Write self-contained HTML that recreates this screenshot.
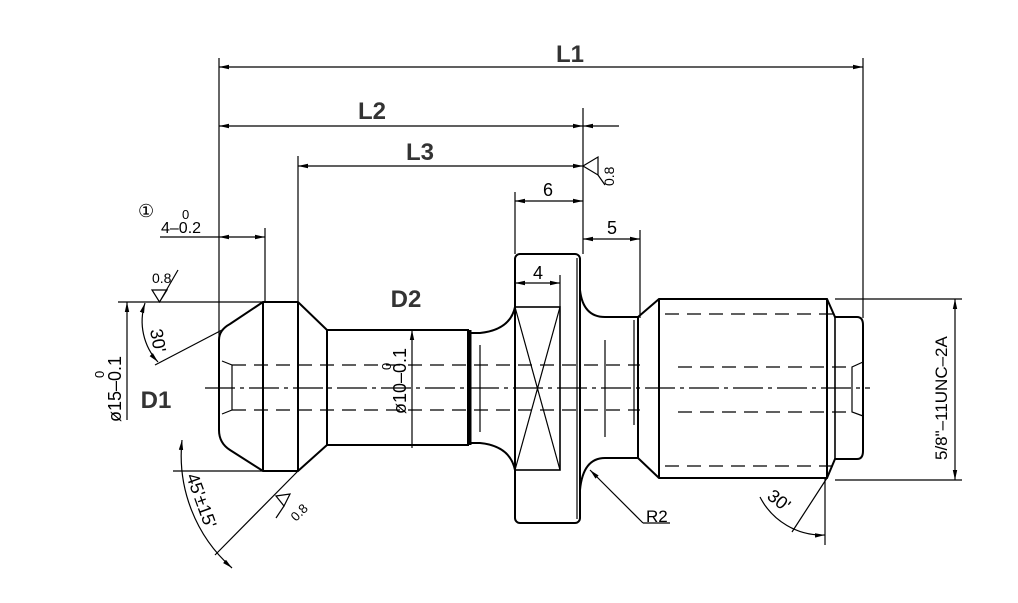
<!DOCTYPE html>
<html><head><meta charset="utf-8"><style>html,body{margin:0;padding:0;background:#fff}svg{display:block}</style></head><body>
<svg width="1018" height="603" viewBox="0 0 1018 603" xmlns="http://www.w3.org/2000/svg" font-family="Liberation Sans, sans-serif">
<defs>
<marker id="a" markerWidth="10" markerHeight="6" refX="10" refY="3" orient="auto-start-reverse" markerUnits="userSpaceOnUse"><path d="M0,0.8 L10,3 L0,5.2z" fill="#000"/></marker>
</defs>
<g stroke="#000" fill="none" stroke-width="1.2">
<line x1="219" y1="58" x2="219" y2="430"/>
<line x1="298" y1="156" x2="298" y2="302"/>
<line x1="583" y1="108" x2="583" y2="254"/>
<line x1="863" y1="58" x2="863" y2="318"/>
<line x1="515" y1="192" x2="515" y2="254"/>
<line x1="640" y1="230" x2="640" y2="318"/>
<line x1="560" y1="275" x2="560" y2="307"/>
<line x1="265" y1="228" x2="265" y2="302"/>
<line x1="219" y1="67" x2="863" y2="67" marker-start="url(#a)" marker-end="url(#a)"/>
<line x1="219" y1="126" x2="583" y2="126" marker-start="url(#a)" marker-end="url(#a)"/>
<line x1="619" y1="126" x2="583" y2="126" marker-end="url(#a)"/>
<line x1="298" y1="166" x2="583" y2="166" marker-start="url(#a)" marker-end="url(#a)"/>
<line x1="515" y1="201" x2="583" y2="201" marker-start="url(#a)" marker-end="url(#a)"/>
<line x1="583" y1="239" x2="640" y2="239" marker-start="url(#a)" marker-end="url(#a)"/>
<line x1="515" y1="283" x2="560" y2="283" marker-start="url(#a)" marker-end="url(#a)"/>
<line x1="160" y1="237" x2="219" y2="237"/>
<line x1="219" y1="237" x2="265" y2="237" marker-start="url(#a)" marker-end="url(#a)"/>
<path d="M583,166 L598,157 L598,175 Z M598,175 L605,185"/>
<path d="M152,290 L167,290 L159.5,302 Z M159.5,302 L178,270"/>
<line x1="118" y1="302" x2="263" y2="302"/>
<line x1="127" y1="420" x2="127" y2="302" marker-end="url(#a)"/>
<line x1="173" y1="471" x2="263" y2="471"/>
<line x1="155" y1="365" x2="222" y2="330"/>
<path d="M145,303 A60,60 0 0 0 158,362" marker-start="url(#a)" marker-end="url(#a)"/>
<line x1="298" y1="471" x2="215" y2="555"/>
<path d="M182,440 A150,150 0 0 0 232,568" marker-start="url(#a)" marker-end="url(#a)"/>
<path d="M276,496 L284,506 L290,494 Z"/>
<line x1="284" y1="506" x2="276" y2="518"/>
<path d="M263,302 L298,302 L327,330 L468,330 L468,445 L327,445 L298,471 L263,471 L230,450 Q219,443 219,430 L219,340 Q219,330 230,324 Z" stroke-width="2"/>
<line x1="263" y1="302" x2="263" y2="471" stroke-width="2"/>
<line x1="298" y1="302" x2="298" y2="471" stroke-width="2"/>
<line x1="327" y1="330" x2="327" y2="445" stroke-width="2"/>
<path d="M222,361 L232,365 L232,410 L222,414"/>
<line x1="412" y1="448" x2="412" y2="330" marker-end="url(#a)"/>
<path d="M468,333 L480,333 Q510,330 515,307 M468,443 L480,443 Q510,446 515,470" stroke-width="2"/>
<line x1="470" y1="330" x2="470" y2="445" stroke-width="3"/>
<line x1="480" y1="345" x2="480" y2="432"/>
<rect x="515" y="254" width="65" height="269" rx="5" stroke-width="2"/>
<line x1="577" y1="258" x2="577" y2="519"/>
<rect x="515" y="307" width="45" height="163" stroke-width="1.6"/>
<path d="M515,307 L560,470 M560,307 L515,470"/>
<path d="M580,290 Q583,317 605,317 L638,317 L659,299 L827,299 L835,317 L857,317 Q863,317 863,325 L863,451 Q863,459 857,459 L835,459 L827,478 L659,478 L638,458 L605,458 Q583,458 580,490" stroke-width="2"/>
<line x1="638" y1="317" x2="638" y2="458" stroke-width="2"/>
<line x1="659" y1="299" x2="659" y2="478" stroke-width="2"/>
<line x1="827" y1="299" x2="827" y2="478" stroke-width="2"/>
<line x1="835" y1="317" x2="835" y2="459" stroke-width="1.6"/>
<line x1="634" y1="320" x2="634" y2="425"/>
<line x1="605" y1="340" x2="605" y2="437"/>
<path d="M863,362 L852,367 L852,412 L863,416"/>
<g stroke-dasharray="14,8">
<line x1="232" y1="365" x2="640" y2="365"/>
<line x1="232" y1="410" x2="640" y2="410"/>
<line x1="678" y1="367" x2="852" y2="367"/>
<line x1="678" y1="412" x2="852" y2="412"/>
<line x1="665" y1="314" x2="835" y2="314"/>
<line x1="665" y1="466" x2="835" y2="466"/>
</g>
<line x1="205" y1="388" x2="870" y2="388" stroke-dasharray="30,5,4,5"/>
<line x1="835" y1="299" x2="962" y2="299"/>
<line x1="835" y1="480" x2="962" y2="480"/>
<line x1="955" y1="390" x2="955" y2="299" marker-end="url(#a)"/>
<line x1="955" y1="390" x2="955" y2="480" marker-end="url(#a)"/>
<line x1="825" y1="478" x2="825" y2="545"/>
<line x1="827" y1="478" x2="792" y2="532"/>
<path d="M760,497 A70,70 0 0 0 825,535" marker-end="url(#a)"/>
<line x1="590" y1="470" x2="643" y2="523" marker-start="url(#a)"/>
<line x1="643" y1="523" x2="670" y2="523"/>
</g>
<g fill="#000">
<text x="570" y="62" font-size="24" font-weight="bold" text-anchor="middle" fill="#333">L1</text>
<text x="372" y="119" font-size="24" font-weight="bold" text-anchor="middle" fill="#333">L2</text>
<text x="420" y="160" font-size="24" font-weight="bold" text-anchor="middle" fill="#333">L3</text>
<text x="406" y="307" font-size="24" font-weight="bold" text-anchor="middle" fill="#333">D2</text>
<text x="156" y="408" font-size="24" font-weight="bold" text-anchor="middle" fill="#333">D1</text>
<text x="548" y="196" font-size="18" text-anchor="middle">6</text>
<text x="612" y="234" font-size="18" text-anchor="middle">5</text>
<text x="538" y="279" font-size="18" text-anchor="middle">4</text>
<text x="138" y="217" font-size="18">①</text>
<text x="161" y="233" font-size="16">4–0.2</text>
<text x="182" y="219" font-size="13">0</text>
<text x="152" y="283" font-size="14">0.8</text>
<text x="646" y="522" font-size="17">R2</text>
<text font-size="18" transform="translate(150,330) rotate(80)">30'</text>
<text font-size="18" transform="translate(766,498) rotate(38)">30'</text>
<text font-size="14" transform="translate(614,186) rotate(-90)">0.8</text>
<text font-size="13" transform="translate(296,522) rotate(-45)">0.8</text>
<text font-size="18" transform="translate(186,476) rotate(70)">45'±15'</text>
<text font-size="18" transform="translate(121,422) rotate(-90)">ø15–0.1</text>
<text font-size="13" transform="translate(104,378) rotate(-90)">0</text>
<text font-size="18" transform="translate(406,414) rotate(-90)">ø10–0.1</text>
<text font-size="13" transform="translate(391,370) rotate(-90)">0</text>
<text font-size="17" transform="translate(947,460) rotate(-90)">5/8"–11UNC–2A</text>
</g>
</svg>
</body></html>
